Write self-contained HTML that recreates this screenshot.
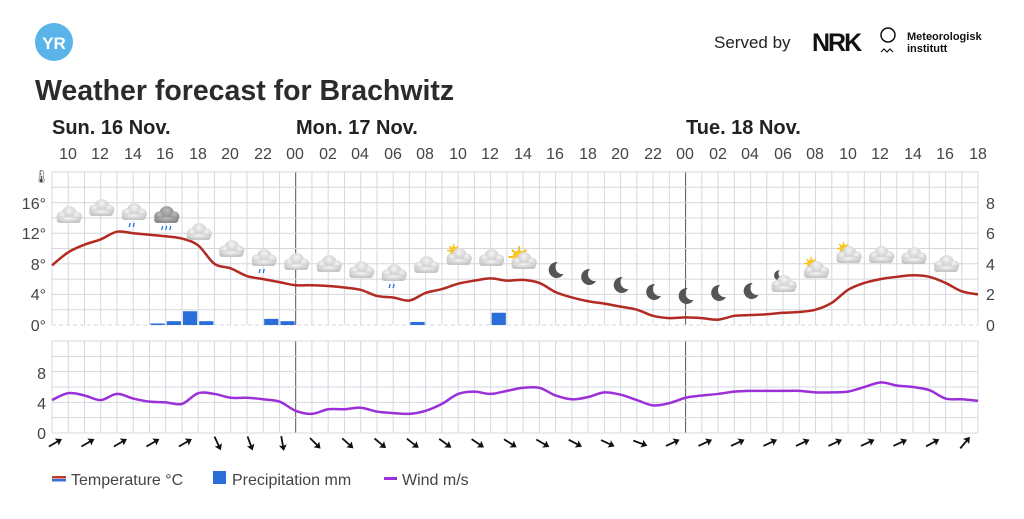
<!DOCTYPE html>
<html><head><meta charset="utf-8"><style>
body{margin:0;background:#fff;width:1024px;height:514px;overflow:hidden;font-family:"Liberation Sans",sans-serif;}
svg text{font-family:"Liberation Sans",sans-serif;}
</style></head><body>
<svg id="s" width="1024" height="514" xmlns="http://www.w3.org/2000/svg">
<defs>
<radialGradient id="cg" cx="50%" cy="30%" r="70%"><stop offset="0" stop-color="#f4f4f4"/><stop offset="1" stop-color="#bdbdbd"/></radialGradient>
<radialGradient id="cd" cx="50%" cy="30%" r="70%"><stop offset="0" stop-color="#bbb"/><stop offset="1" stop-color="#7d7d7d"/></radialGradient>
<symbol id="cloud" viewBox="0 0 30 20"><g fill="url(#cg)"><circle cx="16" cy="9" r="7"/><circle cx="9" cy="12" r="5"/><circle cx="23" cy="12" r="5"/><rect x="4" y="12" width="23" height="6" rx="3"/></g></symbol>
<symbol id="dcloud" viewBox="0 0 30 20"><g fill="url(#cd)"><circle cx="16" cy="9" r="7"/><circle cx="9" cy="12" r="5"/><circle cx="23" cy="12" r="5"/><rect x="4" y="12" width="23" height="6" rx="3"/></g></symbol>
<symbol id="moon" viewBox="0 0 20 20"><path d="M12 2 A8 8 0 1 0 18 14 A7 7 0 0 1 12 2Z" fill="#555"/></symbol>
<symbol id="sun" viewBox="0 0 20 20"><g stroke="#f5b800" stroke-width="1.5"><line x1="10" y1="1" x2="10" y2="19"/><line x1="1" y1="10" x2="19" y2="10"/><line x1="4" y1="4" x2="16" y2="16"/><line x1="16" y1="4" x2="4" y2="16"/></g><circle cx="10" cy="10" r="5.5" fill="#f9c623"/></symbol>
</defs>
<circle cx="54" cy="42" r="19" fill="#5ab4ea"/>
<text x="54" y="49" font-size="17" font-weight="bold" fill="#fff" text-anchor="middle">YR</text>
<text x="714" y="48" font-size="17" fill="#222">Served by</text>
<text x="812" y="51" font-size="25" font-weight="900" fill="#111" letter-spacing="-2">NRK</text>
<circle cx="888" cy="35" r="7" fill="none" stroke="#111" stroke-width="1.5"/>
<path d="M881 52 l3-3 l3 3 l3-3 l3 3" fill="none" stroke="#111" stroke-width="1.2"/>
<text x="907" y="40" font-size="11" font-weight="bold" fill="#111">Meteorologisk</text>
<text x="907" y="52" font-size="11" font-weight="bold" fill="#111">institutt</text>
<text x="35" y="100" font-size="28.5" font-weight="bold" fill="#2b2b2b">Weather forecast for Brachwitz</text>
<text x="52" y="134" font-size="20" font-weight="bold" fill="#222">Sun. 16 Nov.</text>
<text x="296" y="134" font-size="20" font-weight="bold" fill="#222">Mon. 17 Nov.</text>
<text x="686" y="134" font-size="20" font-weight="bold" fill="#222">Tue. 18 Nov.</text>
<g font-size="16" fill="#444" text-anchor="middle">
<text x="68" y="159">10</text><text x="100" y="159">12</text><text x="133" y="159">14</text><text x="165" y="159">16</text><text x="198" y="159">18</text><text x="230" y="159">20</text><text x="263" y="159">22</text><text x="295" y="159">00</text><text x="328" y="159">02</text><text x="360" y="159">04</text><text x="393" y="159">06</text><text x="425" y="159">08</text><text x="458" y="159">10</text><text x="490" y="159">12</text><text x="523" y="159">14</text><text x="555" y="159">16</text><text x="588" y="159">18</text><text x="620" y="159">20</text><text x="653" y="159">22</text><text x="685" y="159">00</text><text x="718" y="159">02</text><text x="750" y="159">04</text><text x="783" y="159">06</text><text x="815" y="159">08</text><text x="848" y="159">10</text><text x="880" y="159">12</text><text x="913" y="159">14</text><text x="945" y="159">16</text><text x="978" y="159">18</text>
</g>
<g font-size="16" fill="#444" text-anchor="end">
<text x="46" y="209">16°</text><text x="46" y="239">12°</text><text x="46" y="270">8°</text><text x="46" y="300">4°</text><text x="46" y="331">0°</text>
<text x="46" y="379">8</text><text x="46" y="409">4</text><text x="46" y="439">0</text>
</g>
<g font-size="16" fill="#444" text-anchor="start">
<text x="986" y="209">8</text><text x="986" y="239">6</text><text x="986" y="270">4</text><text x="986" y="300">2</text><text x="986" y="331">0</text>
</g>
<text x="33" y="181" font-size="13" fill="#444">🌡</text>
<g id="grid"></g>
<g id="icons"></g>
<g font-size="16" fill="#444">
<rect x="52" y="476" width="14" height="2.5" fill="#c0392b"/><rect x="52" y="479" width="14" height="2.5" fill="#3b6fd8"/>
<text x="71" y="485">Temperature °C</text>
<rect x="213" y="471" width="13" height="13" fill="#2a6fd9"/>
<text x="232" y="485">Precipitation mm</text>
<rect x="384" y="477" width="13" height="3" fill="#9b30d9"/>
<text x="402" y="485">Wind m/s</text>
</g>
</svg>
<script>
const NS="http://www.w3.org/2000/svg",g=document.getElementById('grid'),ic=document.getElementById('icons');
function el(p,t,a){const e=document.createElementNS(NS,t);for(const k in a)e.setAttribute(k,a[k]);p.appendChild(e);return e;}
const X=h=>52+(h-9)*16.246;
for(let i=0;i<=57;i++){const x=X(9+i);const mid=(i==15||i==39);
el(g,'line',{x1:x,y1:172,x2:x,y2:325,stroke:mid?'#555':'#d3d8e0','stroke-width':1});
el(g,'line',{x1:x,y1:341,x2:x,y2:433,stroke:mid?'#555':'#d3d8e0','stroke-width':1});}
for(let j=0;j<=10;j++){const y=172+j*15.3;el(g,'line',{x1:52,y1:y,x2:978,y2:y,stroke:'#d3d8e0','stroke-dasharray':j==10?'4 3':''});}
for(let j=0;j<=6;j++){const y=341+j*15.33;el(g,'line',{x1:52,y1:y,x2:978,y2:y,stroke:'#d3d8e0'});}
[[15,0.1],[16,0.25],[17,0.9],[18,0.25],[22,0.4],[23,0.25],[31,0.2],[36,0.8]].forEach(([h,v])=>{
el(g,'rect',{x:X(h)+1,y:325-v*15.3,width:14.2,height:v*15.3,fill:'#2a6fd9'});});
const T=[7.8,9.5,10.5,11.2,12.2,12,11.8,11.6,11.3,10.4,8,7.4,6.4,6,5.6,5.2,5.2,5.1,4.9,4.6,3.8,3.6,3.2,4.2,4.7,5.4,5.8,6.1,5.8,5.9,5.5,4.3,3.6,3.1,2.8,2.4,2.0,1.2,0.9,1.0,0.9,0.7,1.2,1.3,1.4,1.6,1.7,2.0,2.9,4.6,5.5,6.0,6.3,6.5,6.3,5.5,4.4,4.0];
const W=[4.3,5.2,4.9,4.3,5.1,4.5,4.1,4,3.8,5.2,5.1,4.6,4.6,4.4,4.1,2.9,2.5,3.1,3.1,3.3,2.8,2.6,2.5,2.9,3.8,5.1,5.4,5.1,5.5,5.9,5.9,4.9,4.4,4.7,5.3,5.0,4.3,3.6,3.9,4.6,4.9,5.1,5.4,5.5,5.5,5.5,5.5,5.3,5.3,5.4,6.0,6.6,6.2,6.0,5.6,4.5,4.4,4.2];
function path(arr,f){let pts=arr.map((v,i)=>[X(9+i),f(v)]);let d='M'+pts[0];for(let i=1;i<pts.length;i++){const p0=pts[Math.max(0,i-2)],p1=pts[i-1],p2=pts[i],p3=pts[Math.min(pts.length-1,i+1)];
d+=` C${p1[0]+(p2[0]-p0[0])/6},${p1[1]+(p2[1]-p0[1])/6} ${p2[0]-(p3[0]-p1[0])/6},${p2[1]-(p3[1]-p1[1])/6} ${p2[0]},${p2[1]}`;}return d;}
el(g,'path',{d:path(T,v=>325-v*7.65),fill:'none',stroke:'#b22a22','stroke-width':2.5});
el(g,'path',{d:path(W,v=>433-v*7.66),fill:'none',stroke:'#9b30d9','stroke-width':2.5});
const I=[['c',215],['c',208],['r',212],['d',215],['c',232],['c',249],['r',258],['c',262],['c',264],['c',270],['r',273],['c',265],['p',257],['c',258],['s',261],['m',270],['m',277],['m',285],['m',292],['m',296],['m',293],['m',291],['mc',284],['p',270],['p',255],['c',255],['c',256],['c',264]];
I.forEach(([t,y],i)=>{const x=X(10+2*i);
if(t=='m'){el(ic,'use',{href:'#moon',x:x-10,y:y-10,width:20,height:20});return;}
if(t=='p'||t=='s'){el(ic,'use',{href:'#sun',x:x-(t=='s'?16:12),y:y-(t=='s'?16:14),width:t=='s'?24:15,height:t=='s'?24:15});}
if(t=='mc'){el(ic,'use',{href:'#moon',x:x-11,y:y-15,width:13,height:13});}
el(ic,'use',{href:t=='d'?'#dcloud':'#cloud',x:x-16,y:y-11,width:32,height:21});
if(t=='r'||t=='d'){for(let k=0;k<(t=='d'?3:2);k++)el(ic,'line',{x1:x-3+k*4,y1:y+11,x2:x-4+k*4,y2:y+15,stroke:'#2a6fd9','stroke-width':1.3});}
});
const A=[-30,-30,-30,-30,-30,65,70,80,45,42,40,38,36,34,32,30,28,25,20,-25,-25,-25,-25,-25,-25,-25,-25,-28,-50];
A.forEach((a,i)=>{const x=X(9+2*i)+3,y=443;const gg=el(ic,'g',{transform:`translate(${x},${y}) rotate(${a})`});
el(gg,'line',{x1:-7,y1:0,x2:6,y2:0,stroke:'#111','stroke-width':1.8});el(gg,'path',{d:'M8 0 L2 -4 L3 0 L2 4Z',fill:'#111'});});
</script>
</body></html>
